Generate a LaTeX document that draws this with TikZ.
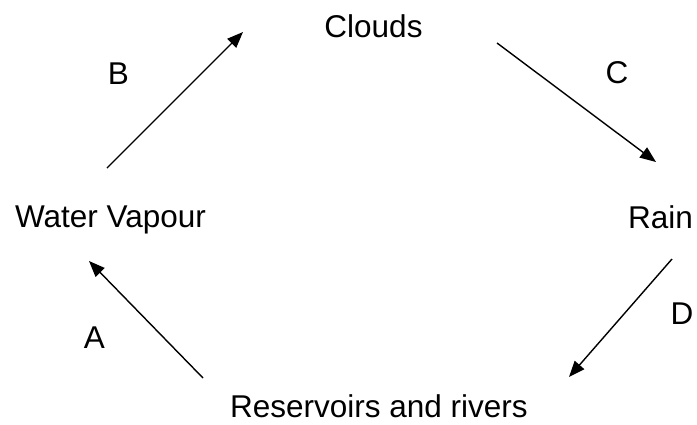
\documentclass[tikz,border=0pt]{standalone}
\usepackage{fontspec}
\setmainfont{Liberation Sans}
\usetikzlibrary{arrows.meta}
\begin{document}
\begin{tikzpicture}[x=1pt,y=-1pt,
  lbl/.style={font=\fontsize{31.5}{36}\selectfont, inner sep=0pt, anchor=base},
  flow/.style={line width=1.4pt, -{Triangle[length=16pt,width=12.5pt]}}]
\useasboundingbox (0,0) rectangle (697,424);
\node[lbl] (clouds) at (373.5,37) {Clouds};
\node[lbl] (vapour) at (110.5,227) {Water Vapour};
\node[lbl] (rain) at (660.5,228) {Rain};
\node[lbl] (res) at (379,417) {Reservoirs and rivers};
\node[lbl] (lB) at (118.5,84) {B};
\node[lbl] (lC) at (617,83) {C};
\node[lbl] (lA) at (94.5,348) {A};
\node[lbl] (lD) at (682,324) {D};
\coordinate (b1) at (107,168);
\coordinate (b2) at (243,32);
\coordinate (c1) at (497,43);
\coordinate (c2) at (656,162);
\coordinate (d1) at (672,259);
\coordinate (d2) at (569,377);
\coordinate (a1) at (203,378);
\coordinate (a2) at (89,261);
\draw[flow] (b1) -- (b2);
\draw[flow] (c1) -- (c2);
\draw[flow] (d1) -- (d2);
\draw[flow] (a1) -- (a2);
\end{tikzpicture}
\end{document}
